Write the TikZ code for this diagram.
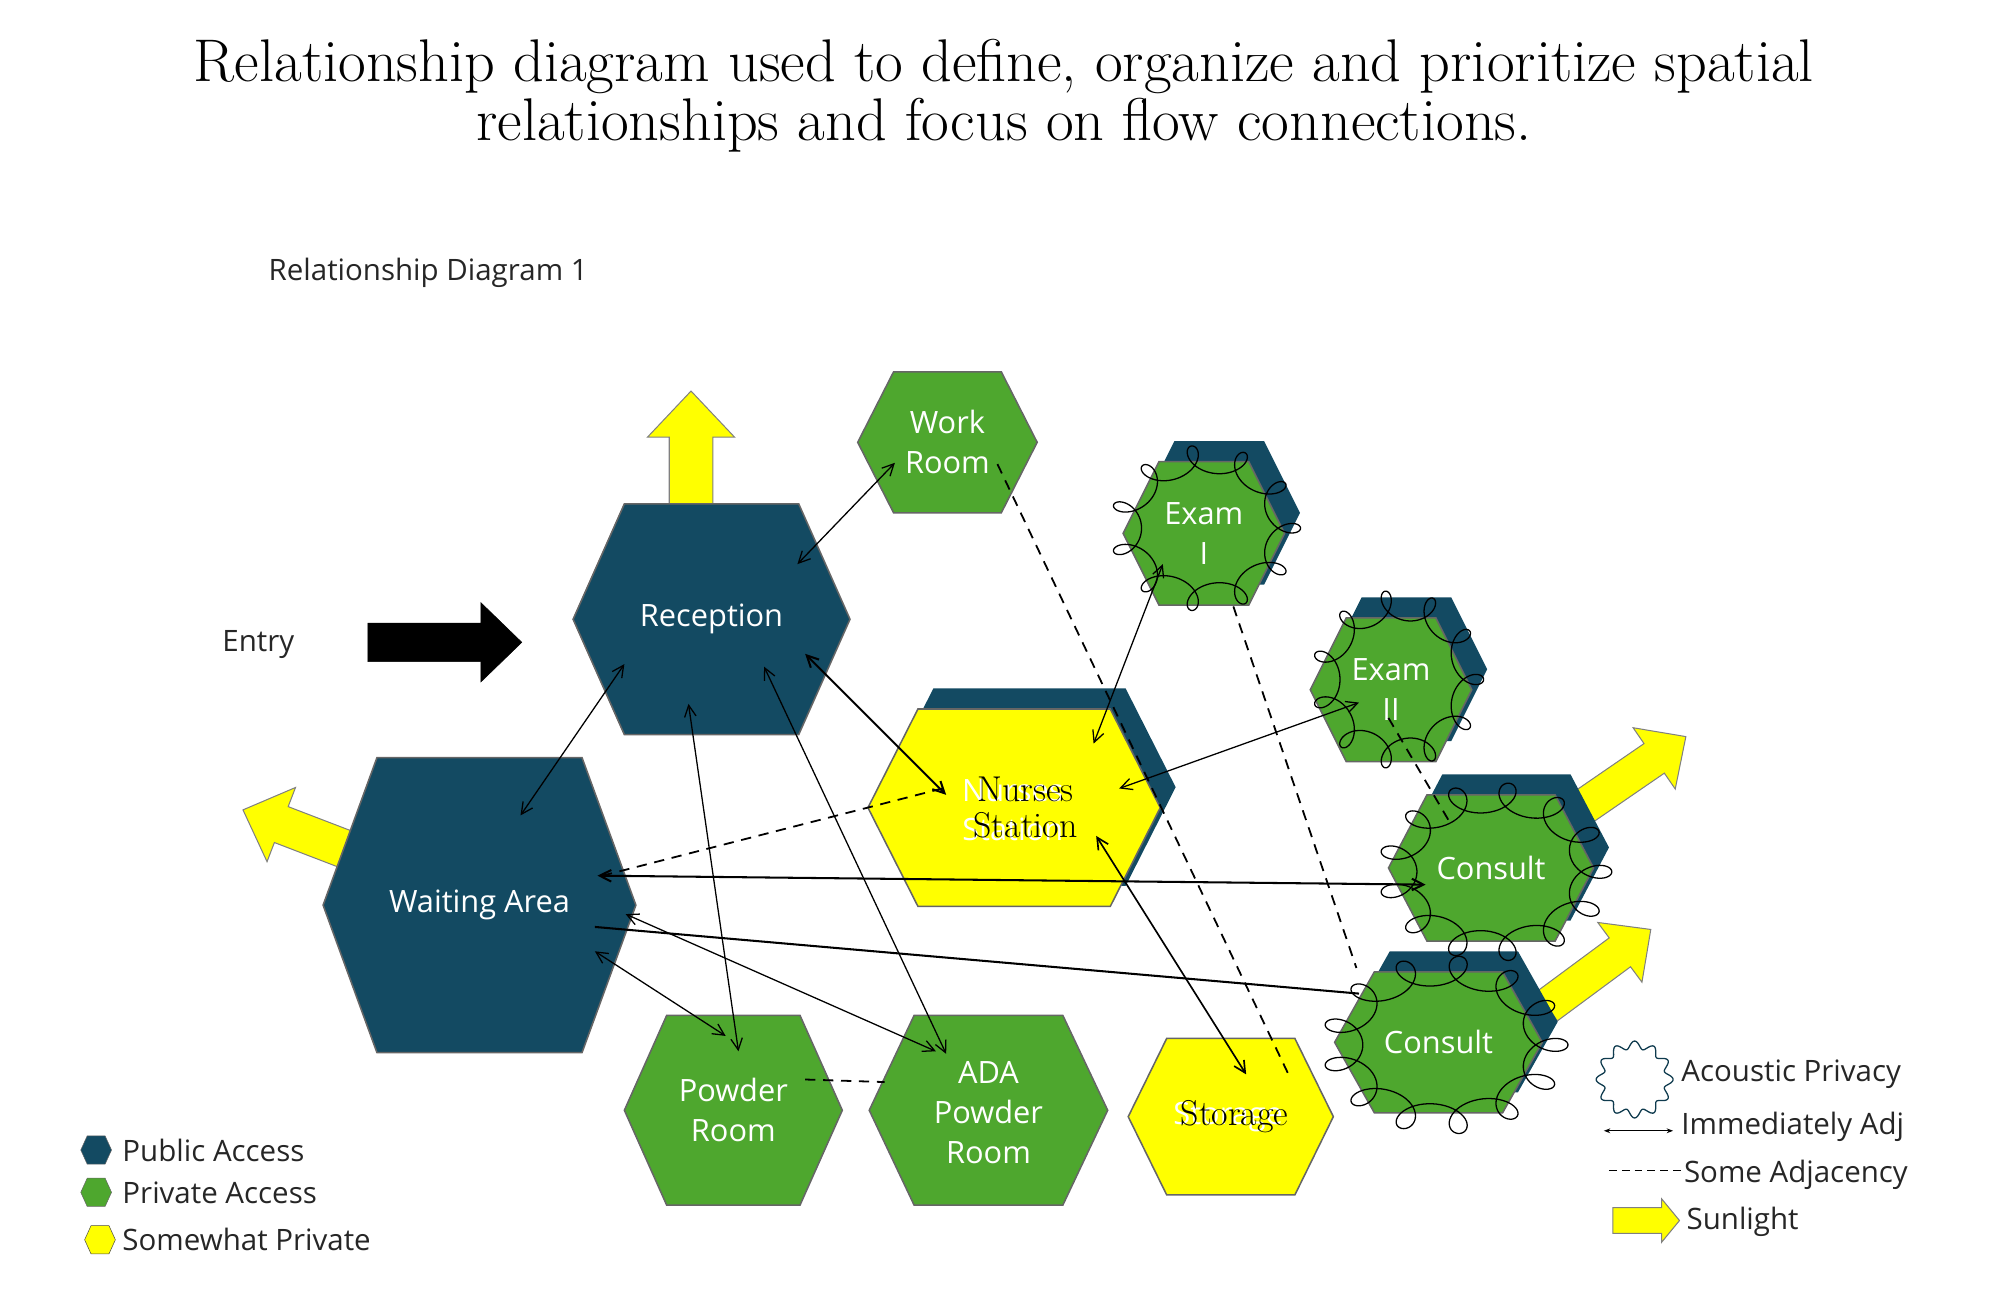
\documentclass[tikz,border=0pt]{standalone}
\usepackage{fontspec}
\newfontfamily\sfc{Open Sans}
\usetikzlibrary{arrows.meta}
\definecolor{teal}{HTML}{134A62}
\definecolor{grn}{HTML}{4EA72E}
\definecolor{yel}{HTML}{FFFF00}
\newcommand\hexpath[5]{(#1-#3,#2) -- (#1-#5,#2-#4) -- (#1+#5,#2-#4) -- (#1+#3,#2) -- (#1+#5,#2+#4) -- (#1-#5,#2+#4) -- cycle}
% name cx cy w h tw fill
\newcommand\hexroom[7]{\fill[#7,draw=black!60,line width=1.2pt] \hexpath{#2}{#3}{#4}{#5}{#6};\node (#1) at (#2,#3) {};}
\newcommand\shadowroom[7]{\fill[teal] \hexpath{#2+12}{#3-16}{#4}{#5}{#6};\hexroom{#1}{#2}{#3}{#4}{#5}{#6}{#7}}
\newcommand\burst[5]{\draw[line width=1pt,smooth] plot[domain=0:360,samples=500,variable=\t] ({#1+#3*(cos(\t)+0.2*cos(-#5*\t))},{#2+#4*(sin(\t)+0.2*sin(-#5*\t))});}
% cx cy angle len shaft head headlen style
\newcommand\arr[8]{\begin{scope}[shift={(#1,#2)},rotate=#3]
\filldraw[#8] (-#4/2,-#5/2) -- (#4/2-#7,-#5/2) -- (#4/2-#7,-#6/2) -- (#4/2,0) -- (#4/2-#7,#6/2) -- (#4/2-#7,#5/2) -- (-#4/2,#5/2) -- cycle;
\end{scope}}
\tikzset{
 lab/.style={text=white,font=\sfc\fontsize{24}{31}\selectfont,align=center},
 leg/.style={text=black!85,font=\sfc\fontsize{23}{28}\selectfont,anchor=west},
 con/.style={line width=1pt,{Straight Barb[length=9pt,width=9pt]}-{Straight Barb[length=9pt,width=9pt]}},
 thk/.style={con,line width=1.6pt},
 dsh/.style={line width=1.4pt,dash pattern=on 8pt off 6pt},
 sun/.style={fill=yel,draw=black!50,line width=0.8pt},
}
\begin{document}
\begin{tikzpicture}[x=1pt,y=-1pt]
\useasboundingbox (0,0) rectangle (1560,1010);
\node (t1) at (783,52) {\fontsize{47}{54}\selectfont Relationship diagram used to define, organize and prioritize spatial};
\node (t2) at (783,98) {\fontsize{47}{54}\selectfont relationships and focus on flow connections.};
\node[leg] (rd) at (206,213) {Relationship Diagram 1};
\node[leg] (entry) at (170,503) {Entry};
\arr{347}{501}{0}{120}{30}{62}{32}{fill=black,draw=black}
% sunlight arrows
\arr{539}{349}{90}{88}{34}{68}{36}{sun}
\arr{232}{648}{159}{91}{30}{62}{32}{sun}
\arr{1275}{602}{34.5}{97}{28}{58}{30}{sun}
\arr{1247}{755}{36.5}{101}{28}{58}{30}{sun}
% rooms
\hexroom{rec}{555}{483}{108}{90}{68}{teal}
\hexroom{wait}{374}{706}{122}{115}{80}{teal}
\hexroom{work}{739}{345}{70}{55}{42}{grn}
\shadowroom{nur}{791}{630}{114}{77}{75}{yel}
\shadowroom{ex1}{939}{416}{63}{56}{35}{grn}
\shadowroom{ex2}{1085}{538}{63}{56}{35}{grn}
\shadowroom{con1}{1163}{677}{80}{57}{50}{grn}
\shadowroom{con2}{1122}{813}{81}{55}{50}{grn}
\hexroom{pow}{572}{866}{85}{74}{52}{grn}
\hexroom{ada}{771}{866}{93}{74}{58}{grn}
\hexroom{sto}{960}{871}{80}{61}{50}{yel}
% labels
\node[lab] (l1) at (555,483) {Reception};
\node[lab] (l2) at (374,706) {Waiting Area};
\node[lab] (l3) at (739,345) {Work\\Room};
\node[lab] (l4) at (790,632) {Nurses\\Station};
\node[font=\fontsize{28}{28}\selectfont,align=center] (l4b) at (800,630) {Nurses\\Station};
\node[lab] (l5) at (939,416) {Exam\\I};
\node[lab] (l6) at (1085,538) {Exam\\II};
\node[lab] (l7) at (1163,677) {Consult};
\node[lab] (l8) at (1122,813) {Consult};
\node[lab] (l9) at (572,866) {Powder\\Room};
\node[lab] (l10) at (771,868) {ADA\\Powder\\Room};
\node[lab] (l11) at (958,871) {Storage};
\node[font=\fontsize{28}{28}\selectfont] (l11b) at (963,871) {Storage};
% acoustic bursts
\burst{940}{412}{62}{54}{10}
\burst{1090}{530}{56}{58}{10}
\burst{1166}{680}{76}{58}{12}
\burst{1127}{815}{80}{58}{12}
% connectors
\draw[con] ([shift={(67,-43)}]rec.center) -- ([shift={(-41,16)}]work.center);
\draw[con] ([shift={(-68,35)}]rec.center) -- ([shift={(32,-70)}]wait.center);
\draw[con] ([shift={(-18,66)}]rec.center) -- ([shift={(4,-46)}]pow.center);
\draw[con] ([shift={(41,37)}]rec.center) -- ([shift={(-33,-44)}]ada.center);
\draw[thk] ([shift={(73,27)}]rec.center) -- ([shift={(-53,-10)}]nur.center);
\draw[thk] ([shift={(92,-23)}]wait.center) -- ([shift={(-51,13)}]con1.center);
\draw[thk,-] ([shift={(90,17)}]wait.center) -- ([shift={(-62,-38)}]con2.center);
\draw[con] ([shift={(114,7)}]wait.center) -- ([shift={(-41,-46)}]ada.center);
\draw[con] ([shift={(90,36)}]wait.center) -- ([shift={(-6,-58)}]pow.center);
\draw[con] ([shift={(62,-50)}]nur.center) -- ([shift={(-32,24)}]ex1.center);
\draw[con] ([shift={(82,-15)}]nur.center) -- ([shift={(-25,10)}]ex2.center);
\draw[con,line width=1.3pt] ([shift={(64,22)}]nur.center) -- ([shift={(12,-33)}]sto.center);
\draw[dsh] ([shift={(39,17)}]work.center) -- ([shift={(45,-33)}]sto.center);
\draw[dsh] ([shift={(23,57)}]ex1.center) -- ([shift={(-64,-58)}]con2.center);
\draw[dsh] ([shift={(-2,22)}]ex2.center) -- ([shift={(-33,-37)}]con1.center);
\draw[dsh] ([shift={(-56,-15)}]nur.center) -- ([shift={(96,-23)}]wait.center);
\draw[dsh] ([shift={(56,-24)}]pow.center) -- ([shift={(-81,-22)}]ada.center);
% legend left
\fill[teal,draw=black!60] \hexpath{75}{897}{12}{11}{7};
\fill[grn,draw=black!60] \hexpath{75}{930}{12}{11}{7};
\fill[yel,draw=black!70] \hexpath{78}{967}{12}{11}{7};
\node[leg] (g1) at (92,897) {Public Access};
\node[leg] (g2) at (92,930) {Private Access};
\node[leg] (g3) at (92,967) {Somewhat Private};
% legend right
\draw[teal!80!black,line width=1pt,smooth] plot[domain=0:360,samples=200,variable=\t] ({1275+(27+3*cos(12*\t))*cos(\t)},{842+(27+3*cos(12*\t))*sin(\t)});
\node[leg] (g4) at (1308,838) {Acoustic Privacy};
\coordinate (ia) at (1251,882); \coordinate (ib) at (1305,882);
\draw[line width=1pt,{Stealth[length=5pt]}-{Stealth[length=5pt]}] (ia) -- (ib);
\node[leg] (g5) at (1308,879) {Immediately Adj};
\coordinate (da) at (1255,913); \coordinate (db) at (1313,913);
\draw[dsh,dash pattern=on 6pt off 4pt] (da) -- (db);
\node[leg] (g6) at (1310,916) {Some Adjacency};
\arr{1284}{952}{0}{52}{20}{34}{14}{sun}
\node[leg] (g7) at (1312,953) {Sunlight};
\end{tikzpicture}
\end{document}
